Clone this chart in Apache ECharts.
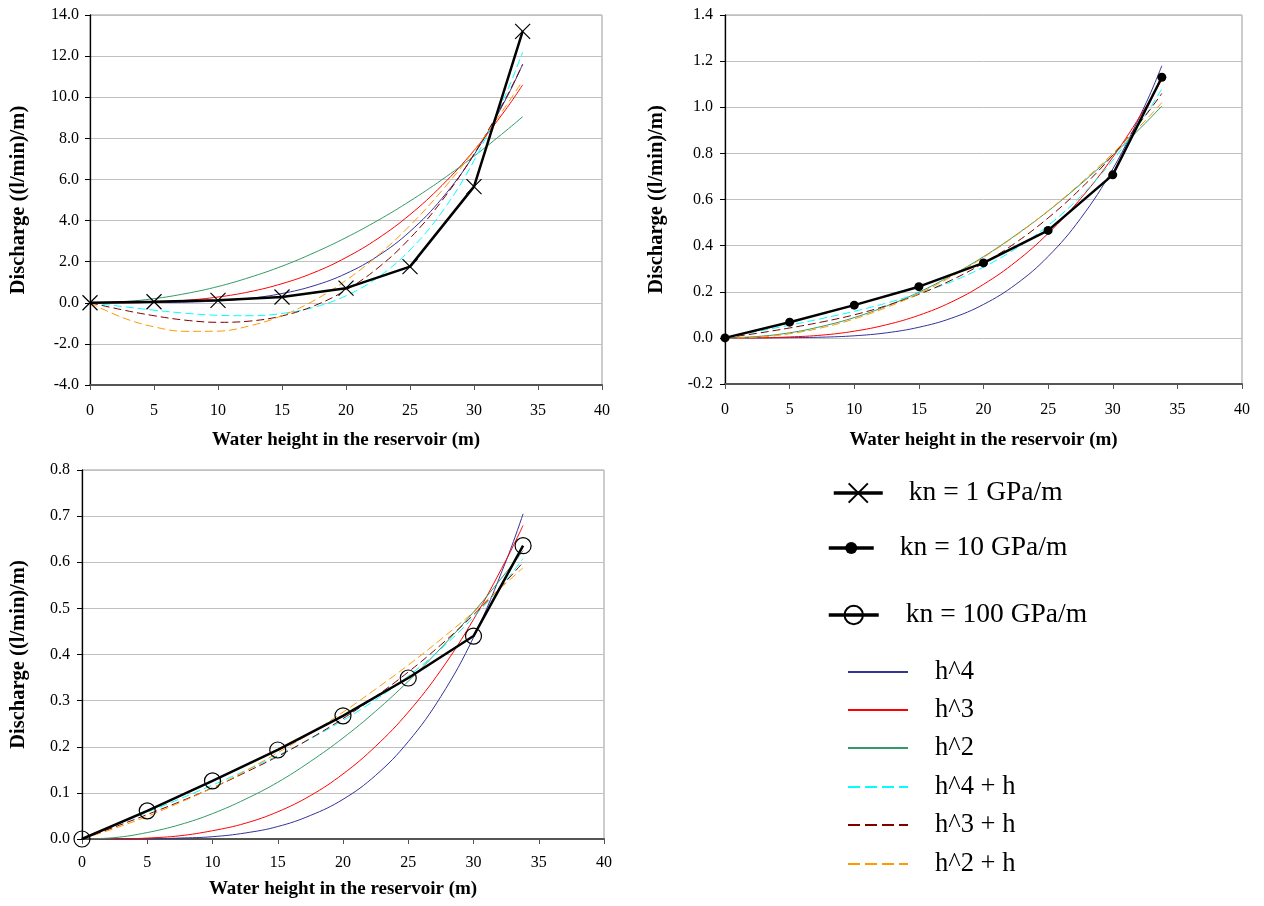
<!DOCTYPE html>
<html><head><meta charset="utf-8">
<script src="https://cdn.jsdelivr.net/npm/echarts@6/dist/echarts.min.js"></script>
<style>html,body{margin:0;padding:0;background:#fff}#c{width:1264px;height:906px}</style>
</head><body><div id="c"></div>
<script>
// ---- data ----
const H_POINTS = [0, 5, 10, 15, 20, 25, 30, 33.8];
const KN1   = [0, 0.05, 0.12, 0.28, 0.71, 1.76, 5.65, 13.2];
const KN10  = [0, 0.068, 0.142, 0.222, 0.325, 0.466, 0.707, 1.13];
const KN100 = [0, 0.061, 0.126, 0.193, 0.267, 0.349, 0.44, 0.636];

const H_FIT = [0, 2.5, 5, 7.5, 10, 12.5, 15, 17.5, 20, 22.5, 25, 27.5, 30, 32.5, 33.8];

const C1_H4  = [0, 0, 0.01, 0.03, 0.09, 0.22, 0.45, 0.83, 1.42, 2.28, 3.47, 5.08, 7.20, 9.92, 11.6];
const C1_H3  = [0, 0, 0.03, 0.12, 0.28, 0.54, 0.93, 1.47, 2.20, 3.13, 4.29, 5.71, 7.41, 9.42, 10.6];
const C1_H2  = [0, 0.05, 0.20, 0.45, 0.79, 1.24, 1.78, 2.43, 3.17, 4.01, 4.95, 5.99, 7.13, 8.37, 9.05];
const C1_H4H = [0, -0.18, -0.36, -0.51, -0.61, -0.63, -0.52, -0.22, 0.34, 1.24, 2.57, 4.42, 6.92, 10.17, 12.2];
const C1_H3H = [0, -0.34, -0.63, -0.85, -0.95, -0.89, -0.64, -0.15, 0.62, 1.70, 3.14, 4.97, 7.23, 9.97, 11.6];
const C1_H2H = [0, -0.71, -1.17, -1.39, -1.38, -1.12, -0.63, 0.11, 1.09, 2.31, 3.76, 5.46, 7.40, 9.58, 10.8];

const C2_H4  = [0, 0, 0.001, 0.003, 0.009, 0.022, 0.046, 0.085, 0.145, 0.232, 0.353, 0.517, 0.732, 1.009, 1.18];
const C2_H3  = [0, 0, 0.004, 0.012, 0.029, 0.057, 0.098, 0.155, 0.232, 0.330, 0.453, 0.603, 0.783, 0.996, 1.12];
const C2_H2  = [0, 0.006, 0.022, 0.050, 0.088, 0.138, 0.198, 0.270, 0.352, 0.446, 0.550, 0.666, 0.792, 0.930, 1.005];
const C2_H4H = [0, 0.028, 0.055, 0.084, 0.115, 0.151, 0.193, 0.243, 0.307, 0.387, 0.487, 0.613, 0.770, 0.963, 1.08];
const C2_H3H = [0, 0.020, 0.043, 0.069, 0.100, 0.140, 0.189, 0.250, 0.324, 0.413, 0.520, 0.646, 0.792, 0.962, 1.06];
const C2_H2H = [0, 0.003, 0.018, 0.044, 0.082, 0.132, 0.192, 0.265, 0.349, 0.444, 0.551, 0.670, 0.800, 0.941, 1.02];

const C3_H4  = [0, 0, 0, 0.002, 0.005, 0.013, 0.027, 0.051, 0.086, 0.138, 0.211, 0.309, 0.437, 0.603, 0.705];
const C3_H3  = [0, 0, 0.002, 0.007, 0.018, 0.034, 0.059, 0.094, 0.141, 0.201, 0.275, 0.366, 0.476, 0.605, 0.68];
const C3_H2  = [0, 0.003, 0.014, 0.031, 0.055, 0.086, 0.123, 0.168, 0.219, 0.277, 0.342, 0.414, 0.492, 0.578, 0.625];
const C3_H4H = [0, 0.029, 0.058, 0.087, 0.117, 0.148, 0.181, 0.217, 0.257, 0.302, 0.353, 0.412, 0.481, 0.561, 0.608];
const C3_H3H = [0, 0.026, 0.053, 0.081, 0.111, 0.144, 0.179, 0.218, 0.261, 0.309, 0.362, 0.421, 0.486, 0.559, 0.60];
const C3_H2H = [0, 0.023, 0.049, 0.079, 0.111, 0.147, 0.187, 0.229, 0.275, 0.325, 0.377, 0.433, 0.492, 0.555, 0.588];

const FIT_NAMES = ['h^4', 'h^3', 'h^2', 'h^4 + h', 'h^3 + h', 'h^2 + h'];
const KN_NAMES = ['kn = 1 GPa/m', 'kn = 10 GPa/m', 'kn = 100 GPa/m'];
const X_TITLE = 'Water height in the reservoir (m)';
const Y_TITLE = 'Discharge ((l/min)/m)';

// ---- styling ----
const SERIF = "'Liberation Serif', 'Times New Roman', serif";
const FIT_COLORS = ['#333399', '#ff0000', '#339966', '#00ffff', '#800000', '#ff9900'];
const FIT_DASH = ['solid', 'solid', 'solid', [8, 4], [8, 4], [8, 4]];
const CROSS = 'path://M0,0L20,20M20,0L0,20';

function zip(xs, ys) { return xs.map((x, i) => [x, ys[i]]); }

const fitSets = [
  [C1_H4, C1_H3, C1_H2, C1_H4H, C1_H3H, C1_H2H],
  [C2_H4, C2_H3, C2_H2, C2_H4H, C2_H3H, C2_H2H],
  [C3_H4, C3_H3, C3_H2, C3_H4H, C3_H3H, C3_H2H]
];
const knSets = [KN1, KN10, KN100];
const knSymbols = [
  { symbol: CROSS, symbolSize: 15, itemStyle: { color: 'rgba(0,0,0,0)', borderColor: '#000', borderWidth: 1.2 } },
  { symbol: 'circle', symbolSize: 9, itemStyle: { color: '#000', borderColor: '#000', borderWidth: 0 } },
  { symbol: 'circle', symbolSize: 16, itemStyle: { color: 'rgba(0,0,0,0)', borderColor: '#000', borderWidth: 1.2 } }
];

const grids = [
  { left: 90, top: 15, width: 512, height: 370, show: true, borderColor: '#9a9a9a', borderWidth: 1 },
  { left: 725, top: 15, width: 517, height: 369, show: true, borderColor: '#9a9a9a', borderWidth: 1 },
  { left: 82, top: 470, width: 522, height: 369, show: true, borderColor: '#9a9a9a', borderWidth: 1 }
];
const yCfg = [
  { min: -4, max: 14, interval: 2, nameGap: 61, labelMargin: 11 },
  { min: -0.2, max: 1.4, interval: 0.2, nameGap: 58, labelMargin: 12 },
  { min: 0, max: 0.8, interval: 0.1, nameGap: 53, labelMargin: 12 }
];
const xCfg = [
  { nameGap: 46, labelMargin: 18 },
  { nameGap: 47, labelMargin: 18 },
  { nameGap: 41, labelMargin: 16 }
];

const xAxes = xCfg.map((c, i) => ({
  type: 'value', gridIndex: i, min: 0, max: 40, interval: 5,
  name: X_TITLE, nameLocation: 'middle', nameGap: c.nameGap,
  nameTextStyle: { fontFamily: SERIF, fontWeight: 'bold', fontSize: 19, color: '#000' },
  axisLine: { onZero: false, lineStyle: { color: '#555', width: 2 } },
  axisTick: { show: true, inside: false, length: 5, lineStyle: { color: '#555', width: 1 } },
  axisLabel: { margin: c.labelMargin, fontFamily: SERIF, fontSize: 16, color: '#000' },
  splitLine: { show: false }
}));
const yAxes = yCfg.map((c, i) => ({
  type: 'value', gridIndex: i, min: c.min, max: c.max, interval: c.interval,
  name: Y_TITLE, nameLocation: 'middle', nameGap: c.nameGap, nameRotate: 90,
  nameTextStyle: { fontFamily: SERIF, fontWeight: 'bold', fontSize: 20.5, color: '#000' },
  axisLine: { onZero: false, lineStyle: { color: '#000', width: 1.3 } },
  axisTick: { show: true, inside: false, length: 5, lineStyle: { color: '#000', width: 1 } },
  axisLabel: { margin: c.labelMargin, fontFamily: SERIF, fontSize: 16, color: '#000',
    formatter: v => v.toFixed(1) },
  splitLine: { show: true, lineStyle: { color: '#c0c0c0', width: 1 } }
}));

const series = [];
for (let g = 0; g < 3; g++) {
  fitSets[g].forEach((vals, k) => {
    series.push({
      type: 'line', name: FIT_NAMES[k], xAxisIndex: g, yAxisIndex: g,
      data: zip(H_FIT, vals), smooth: 0.4, symbol: 'none', z: 2,
      color: FIT_COLORS[k],
      lineStyle: { color: FIT_COLORS[k], width: 1, type: FIT_DASH[k] }
    });
  });
}
for (let g = 0; g < 3; g++) {
  series.push(Object.assign({
    type: 'line', name: KN_NAMES[g], xAxisIndex: g, yAxisIndex: g,
    data: zip(H_POINTS, knSets[g]), z: 5, color: '#000',
    lineStyle: { color: '#000', width: 2.5 }
  }, knSymbols[g]));
}

function legendItem(name, left, cy, itemWidth, itemHeight, gap, fontSize, extra) {
  return Object.assign({
    data: [name], left: left, top: cy - 14, padding: 0, itemWidth: itemWidth, itemHeight: itemHeight,
    selectedMode: false,
    textStyle: { fontFamily: SERIF, fontSize: fontSize, lineHeight: 28, color: '#000', padding: [0, 0, 0, gap] }
  }, extra || {});
}
const legends = [
  legendItem(KN_NAMES[0], 832, 493, 49, 24, 21, 27.5, { lineStyle: { width: 3.5 } }),
  legendItem(KN_NAMES[1], 827, 548, 45, 15, 21, 27.5, { lineStyle: { width: 3.5 } }),
  legendItem(KN_NAMES[2], 827, 615, 50, 23, 22, 27.5, { lineStyle: { width: 3.5 } })
];
const fitLegendY = [672, 710, 748, 787, 825, 864];
FIT_NAMES.forEach((n, k) => {
  legends.push(legendItem(n, 847, fitLegendY[k], 60, 14, 22, 26.5,
    { lineStyle: { width: 2, type: k >= 3 ? [12, 5] : 'solid' },
      itemStyle: { opacity: 0, color: 'rgba(0,0,0,0)', borderWidth: 0 } }));
});

const chart = echarts.init(document.getElementById('c'), null, { renderer: 'canvas' });
chart.setOption({
  animation: false,
  backgroundColor: '#fff',
  grid: grids,
  xAxis: xAxes,
  yAxis: yAxes,
  legend: legends,
  series: series
});
</script>
</body></html>
